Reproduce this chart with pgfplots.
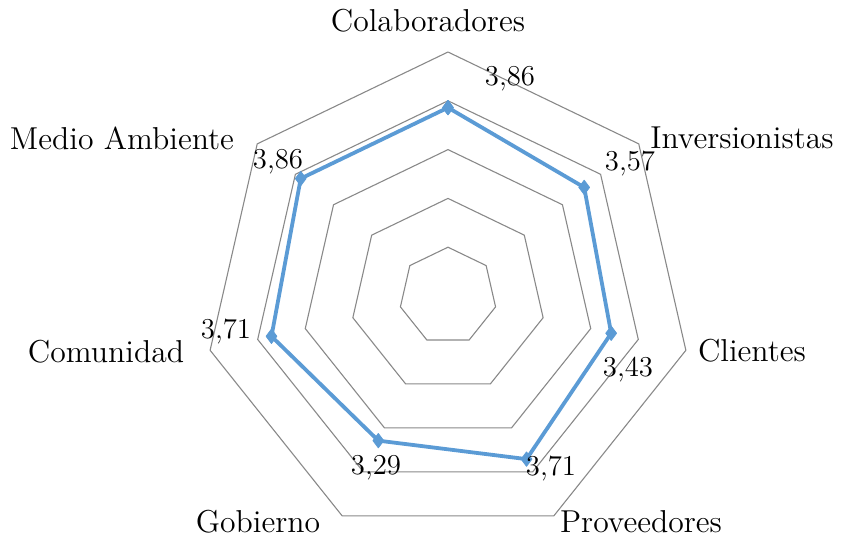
\documentclass[border=0pt]{standalone}
\usepackage{pgfplots}
\pgfplotsset{compat=1.18}
\usepgfplotslibrary{polar}
\definecolor{serie}{HTML}{5B9BD5}
\definecolor{gridc}{HTML}{898989}
\newcommand{\cat}[1]{\scalebox{1.1}{\Large #1}}
\begin{document}
\begin{tikzpicture}
\useasboundingbox (-224pt,-120.5pt) rectangle (197pt,148pt);
\begin{polaraxis}[
  at={(0,0)}, anchor=center,
  width=244pt, height=244pt, scale only axis,
  hide axis, clip=false,
  ymin=0, ymax=5, xmin=0, xmax=360,
]
\foreach \r in {1,2,3,4,5}{
  \addplot[gridc, line width=0.55pt, line join=miter, no marks] coordinates {
    (90,\r) (38.5714,\r) (-12.8571,\r) (-64.2857,\r) (-115.7143,\r) (-167.1429,\r) (141.4286,\r) (90,\r)};
}
\addplot[serie, line width=1.9pt, line join=round, mark=diamond*, mark size=3.6pt, mark options={fill=serie, draw=serie, line width=0.4pt}] coordinates {
  (90,3.86) (38.5714,3.57) (-12.8571,3.43) (-64.2857,3.71) (-115.7143,3.29) (-167.1429,3.71) (141.4286,3.86) (90,3.86)};
\end{polaraxis}
\begin{scope}[every node/.style={inner sep=0pt}]
\node at (-10pt,137.5pt) {\cat{Colaboradores}};
\node at (147pt,79pt) {\cat{Inversionistas}};
\node at (152pt,-27.5pt) {\cat{Clientes}};
\node at (96.5pt,-113pt) {\cat{Proveedores}};
\node at (-95pt,-113pt) {\cat{Gobierno}};
\node at (-171pt,-28pt) {\cat{Comunidad}};
\node at (-163pt,79pt) {\cat{Medio Ambiente}};
\begin{scope}[every node/.append style={font=\Large}]
\node at (31pt,108.5pt) {3,86};
\node at (91pt,66pt) {3,57};
\node at (90pt,-37pt) {3,43};
\node at (51.5pt,-86.5pt) {3,71};
\node at (-36pt,-86pt) {3,29};
\node at (-111pt,-18pt) {3,71};
\node at (-85pt,67pt) {3,86};
\end{scope}
\end{scope}
\end{tikzpicture}
\end{document}
